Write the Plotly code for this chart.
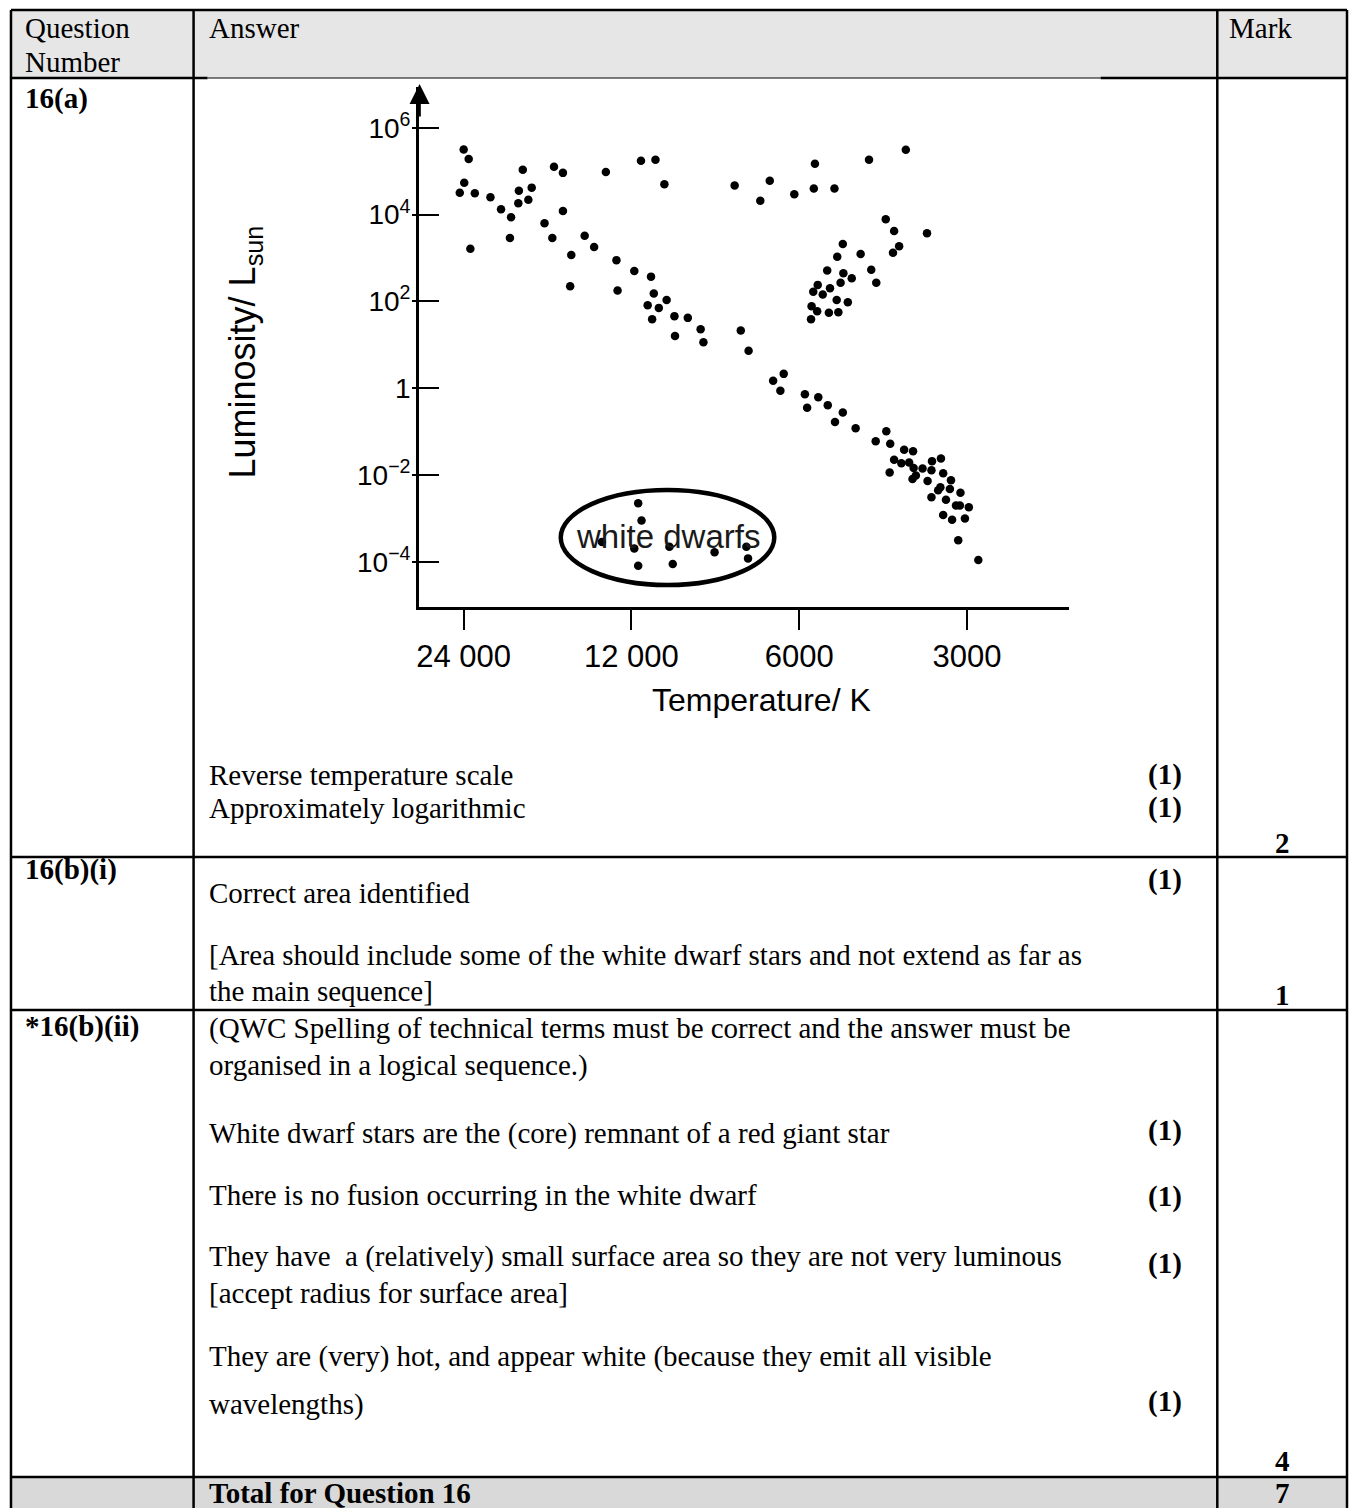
import plotly.graph_objects as go

W, H = 1349, 1508

# ---------------- data ----------------
log_temperature = [
    4.380, 4.371, 4.379, 4.387, 4.360, 4.368, 4.332, 4.313, 4.295, 4.297,
    4.274, 4.281, 4.282, 4.264, 4.258, 4.218, 4.202, 4.202, 4.235, 4.221,
    4.187, 4.189, 4.163, 4.146, 4.125, 4.106, 4.104, 4.062, 4.036, 4.020,
    4.074, 4.044, 4.039, 4.050, 4.030, 4.042, 4.016, 4.002, 3.978, 4.001,
    3.955, 3.950, 3.883, 3.869, 3.894, 3.848, 3.831, 3.787, 3.750, 3.752,
    3.715, 3.653, 3.587, 3.623, 3.608, 3.549, 3.599, 3.610, 3.700, 3.710,
    3.668, 3.728, 3.699, 3.684, 3.649, 3.640, 3.745, 3.704, 3.753, 3.736,
    3.723, 3.711, 3.691, 3.756, 3.746, 3.725, 3.708, 3.757, 3.825, 3.806,
    3.812, 3.768, 3.764, 3.744, 3.727, 3.700, 3.714,
    4.067, 4.061, 4.132, 4.074, 4.011, 4.067, 4.005, 3.930, 3.873, 3.870,
    3.677, 3.622, 3.641, 3.615, 3.590, 3.574, 3.524, 3.540, 3.608, 3.595,
    3.581, 3.573, 3.557, 3.541, 3.616, 3.569, 3.575, 3.548, 3.520, 3.506,
    3.525, 3.529, 3.508, 3.489, 3.541, 3.515, 3.497, 3.490, 3.474, 3.520,
    3.504, 3.481, 3.493, 3.457,
]
log_luminosity = [
    5.50, 5.28, 4.73, 4.50, 4.49, 3.21, 4.40, 4.12, 3.94, 3.46,
    5.03, 4.55, 4.26, 4.34, 4.62, 5.10, 4.96, 4.08, 3.80, 3.46,
    3.07, 2.35, 3.51, 3.25, 4.98, 2.95, 2.25, 5.24, 5.26, 4.70,
    2.70, 2.57, 2.18, 1.91, 1.85, 1.59, 2.03, 1.66, 1.62, 1.20,
    1.36, 1.06, 1.33, 0.86, 4.67, 4.32, 4.78, 4.47, 5.17, 4.60,
    4.60, 5.26, 5.49, 3.89, 3.62, 3.57, 3.27, 3.12, 3.32, 3.03,
    3.09, 2.71, 2.65, 2.53, 2.73, 2.43, 2.38, 2.43, 2.22, 2.16,
    2.30, 2.03, 1.98, 1.89, 1.77, 1.74, 1.75, 1.59, 0.17, 0.33,
    -0.06, -0.14, -0.45, -0.21, -0.39, -0.56, -0.78,
    -2.65, -3.05, -3.54, -3.69, -3.65, -4.09, -4.05, -3.78, -3.65, -3.92,
    -0.92, -0.99, -1.22, -1.28, -1.42, -1.45, -1.62, -1.68, -1.65, -1.73,
    -1.71, -1.84, -1.85, -1.89, -1.94, -2.01, -2.09, -2.14, -1.96, -2.12,
    -2.28, -2.35, -2.32, -2.41, -2.51, -2.57, -2.70, -2.70, -2.74, -2.92,
    -3.03, -3.00, -3.50, -3.96,
]
temperature_K = [10 ** v for v in log_temperature]
luminosity_Lsun = [10 ** v for v in log_luminosity]

temp_ticks = [24000, 12000, 6000, 3000]
temp_tick_labels = ["24 000", "12 000", "6000", "3000"]
lum_ticks = [1e6, 1e4, 1e2, 1, 1e-2, 1e-4]
lum_tick_labels = ["10<sup>6</sup>", "10<sup>4</sup>", "10<sup>2</sup>", "1",
                   "10<sup>\u22122</sup>", "10<sup>\u22124</sup>"]

# ---------------- helpers ----------------
def px(x):
    return x / W

def py(y):
    return 1 - y / H

SERIF = "Liberation Serif, Times New Roman, serif"
SANS = "Liberation Sans, Arial, sans-serif"
FS = 29

fig = go.Figure()
fig.add_trace(go.Scatter(
    x=temperature_K, y=luminosity_Lsun, mode="markers",
    marker=dict(color="black", size=8.5, symbol="circle"),
    showlegend=False, hoverinfo="skip",
))
fig.add_trace(go.Scatter(x=[None], y=[None], yaxis="y2", showlegend=False,
                         hoverinfo="skip"))

shapes = []
# backgrounds
shapes.append(dict(type="rect", xref="paper", yref="paper", layer="below",
                   x0=px(8), x1=px(1347), y0=py(78), y1=py(10),
                   fillcolor="#e6e6e6", line=dict(width=0)))
shapes.append(dict(type="rect", xref="paper", yref="paper", layer="below",
                   x0=px(8), x1=px(1347), y0=py(1508), y1=py(1477),
                   fillcolor="#d9d9d9", line=dict(width=0)))

def hline(y, x0, x1, w=2.5):
    shapes.append(dict(type="line", xref="paper", yref="paper",
                       x0=px(x0), x1=px(x1), y0=py(y), y1=py(y),
                       line=dict(color="black", width=w)))

def vline(x, y0, y1, w=2.5):
    shapes.append(dict(type="line", xref="paper", yref="paper",
                       x0=px(x), x1=px(x), y0=py(y0), y1=py(y1),
                       line=dict(color="black", width=w)))

hline(10, 8, 1347)
hline(78, 8, 205)
hline(78, 205, 1100, 1)
hline(78, 1100, 1347)
hline(857, 8, 1347)
hline(1010, 8, 1347)
hline(1477, 8, 1347)
for xv in (8, 191, 1217, 1347):
    vline(xv, 10, 1508)

# white dwarf ellipse
shapes.append(dict(type="circle", xref="paper", yref="paper",
                   x0=px(559), x1=px(773), y0=py(585), y1=py(490),
                   line=dict(color="black", width=4.5)))

ann = []

def text(x, y, s, size=FS, bold=False, xanchor="left", family=SERIF,
         color="black", angle=0):
    if bold:
        s = "<b>" + s + "</b>"
    ann.append(dict(xref="paper", yref="paper", x=px(x), y=py(y), text=s,
                    showarrow=False, xanchor=xanchor, yanchor="middle",
                    textangle=angle,
                    font=dict(family=family, size=size, color=color)))

# header
text(20, 28, "Question")
text(20, 62, "Number")
text(204, 28, "Answer")
text(1227, 28, "Mark")

# row 16(a)
text(20, 98, "16(a)", bold=True)
text(204, 775, "Reverse temperature scale")
text(204, 808, "Approximately logarithmic")
text(1184, 774, "(1)", bold=True, xanchor="right")
text(1184, 807, "(1)", bold=True, xanchor="right")
text(1282, 843, "2", bold=True, xanchor="center")

# row 16(b)(i)
text(20, 870, "16(b)(i)", bold=True)
text(1184, 879, "(1)", bold=True, xanchor="right")
text(204, 893, "Correct area identified")
text(204, 955, "[Area should include some of the white dwarf stars and not extend as far as")
text(204, 991, "the main sequence]")
text(1282, 995, "1", bold=True, xanchor="center")

# row 16(b)(ii)
text(20, 1026, "*16(b)(ii)", bold=True)
text(204, 1028, "(QWC Spelling of technical terms must be correct and the answer must be")
text(204, 1065, "organised in a logical sequence.)")
text(204, 1133, "White dwarf stars are the (core) remnant of a red giant star")
text(1184, 1130, "(1)", bold=True, xanchor="right")
text(204, 1195, "There is no fusion occurring in the white dwarf")
text(1184, 1196, "(1)", bold=True, xanchor="right")
text(204, 1256, "They have \u00a0a (relatively) small surface area so they are not very luminous")
text(1184, 1263, "(1)", bold=True, xanchor="right")
text(204, 1293, "[accept radius for surface area]")
text(204, 1356, "They are (very) hot, and appear white (because they emit all visible")
text(204, 1404, "wavelengths)")
text(1184, 1401, "(1)", bold=True, xanchor="right")
text(1282, 1461, "4", bold=True, xanchor="center")

# total row
text(204, 1493, "Total for Question 16", bold=True)
text(1282, 1493, "7", bold=True, xanchor="center")

# chart texts
text(666, 536, "white dwarfs", size=33, xanchor="center", family=SANS, color="#1a1a1a")
text(760, 700, "Temperature/ K", size=32, xanchor="center", family=SANS)
text(243, 352, "Luminosity/ L<sub>sun</sub>", size=36, xanchor="center",
     family=SANS, angle=-90)

# arrow at top of the luminosity axis
ann.append(dict(xref="paper", yref="paper", x=px(417.5), y=py(84),
                ax=0, ay=34, text="", showarrow=True, arrowhead=2,
                arrowsize=1.6, arrowwidth=2.5, arrowcolor="black"))

x_dom = [px(417), px(1068)]
y_dom = [py(607), py(87)]
y_range = [-5.04, 6.938]

fig.update_layout(
    width=W, height=H, margin=dict(l=0, r=0, t=0, b=0),
    paper_bgcolor="white", plot_bgcolor="rgba(0,0,0,0)",
    showlegend=False, shapes=shapes, annotations=ann,
    xaxis=dict(type="log", range=[4.460, 3.295], domain=x_dom,
               showline=True, linecolor="black", linewidth=3,
               ticks="outside", ticklen=20, tickwidth=1.5, tickcolor="black",
               tickvals=temp_ticks, ticktext=temp_tick_labels,
               tickfont=dict(family=SANS, size=31, color="black"),
               showgrid=False, zeroline=False, fixedrange=True),
    yaxis=dict(type="log", range=y_range, domain=y_dom,
               showline=True, linecolor="black", linewidth=3,
               ticks="inside", ticklen=20, tickwidth=1.5, tickcolor="black",
               tickvals=lum_ticks, ticktext=lum_tick_labels,
               tickfont=dict(family=SANS, size=28, color="black"),
               showgrid=False, zeroline=False, fixedrange=True),
    yaxis2=dict(type="log", range=y_range, domain=y_dom, overlaying="y",
                anchor="x", side="left", showline=False,
                ticks="outside", ticklen=6, tickwidth=1.5, tickcolor="black",
                tickvals=lum_ticks, showticklabels=False,
                showgrid=False, zeroline=False, fixedrange=True),
)

fig.write_html("out.html", config={"displayModeBar": False},
               post_script="document.body.style.margin='0';")
